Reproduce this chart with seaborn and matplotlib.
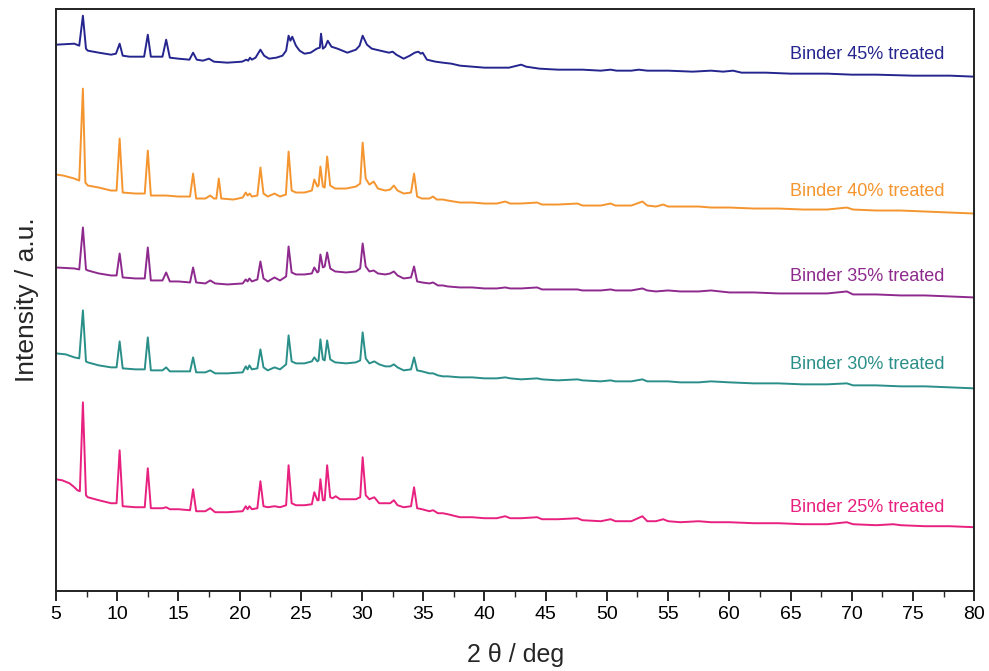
import numpy as np
import pandas as pd
import matplotlib
matplotlib.use("Agg")
import matplotlib.pyplot as plt
import seaborn as sns
from matplotlib.ticker import MultipleLocator

# ---------------- data ----------------
samples = ["Binder 45% treated", "Binder 40% treated", "Binder 35% treated",
           "Binder 30% treated", "Binder 25% treated"]
colors = ["#25258F", "#F5952F", "#8E2A8E", "#2A8F89", "#E8207F"]

# 2-theta (deg) and intensity (a.u.) vertices for each trace
theta_45 = [5.0, 6.5, 6.9, 7.2, 7.45, 7.6, 8.5, 9.5, 9.9, 10.2, 10.45, 11.0, 12.2, 12.5, 12.75,
            13.7, 14.0, 14.3, 15.0, 15.9, 16.2, 16.5, 17.0, 17.5, 17.9, 19.0, 20.2, 20.55, 20.7,
            20.85, 21.0, 21.3, 21.7, 22.0, 22.4, 23.0, 23.5, 23.8, 24.0, 24.15, 24.3, 24.6, 24.9,
            25.3, 25.8, 26.3, 26.55, 26.65, 26.8, 27.0, 27.2, 27.5, 28.0, 28.8, 29.5, 29.8, 30.05,
            30.4, 30.8, 31.5, 32.2, 32.5, 32.8, 33.4, 33.9, 34.3, 34.6, 34.8, 34.95, 35.3, 36.0,
            36.6, 37.3, 38.0, 39.0, 40.0, 41.0, 42.0, 43.0, 43.4, 44.5, 46.0, 48.0, 49.5, 50.3,
            50.8, 52.0, 52.6, 53.3, 55.0, 57.0, 58.5, 59.5, 60.3, 61.0, 63.0, 65.0, 68.0, 70.0,
            72.0, 75.0, 78.0, 80.0]
inten_45 = [547, 548, 546, 576, 543, 541, 539, 537, 538, 548, 536, 535, 535, 557, 535,
            535, 552, 534, 533, 532, 539, 532, 531, 533, 530, 529, 530, 532, 531,
            534, 532, 534, 542, 536, 533, 534, 536, 541, 556, 551, 555, 546, 541,
            538, 539, 543, 544, 558, 543, 545, 551, 545, 543, 539, 542, 546, 556,
            547, 543, 541, 539, 540, 537, 533, 536, 539, 540, 538, 539, 532, 530,
            529, 528, 526, 525, 524, 524, 524, 527, 525, 523, 522, 522, 521, 522,
            521, 521, 522, 521, 521, 520, 521, 520, 521, 519, 519, 518, 518, 517,
            517, 516, 516, 515]

theta_40 = [5.0, 5.6, 6.5, 6.9, 7.2, 7.4, 7.6, 8.5, 9.5, 9.95, 10.2, 10.45, 11.5, 12.25, 12.5,
            12.75, 14.0, 15.0, 15.95, 16.2, 16.45, 17.2, 17.6, 17.9, 18.1, 18.3, 18.5, 19.5,
            20.25, 20.5, 20.65, 20.82, 21.0, 21.45, 21.7, 21.95, 22.3, 22.85, 23.3, 23.78, 24.0,
            24.25, 24.6, 25.3, 25.9, 26.1, 26.35, 26.45, 26.6, 26.8, 26.95, 27.15, 27.4, 27.8,
            28.7, 29.5, 29.85, 30.05, 30.3, 30.6, 30.95, 31.3, 31.9, 32.3, 32.6, 32.9, 33.4,
            34.0, 34.25, 34.5, 34.9, 35.5, 35.8, 36.1, 36.6, 37.0, 38.0, 39.0, 40.0, 41.0, 41.7,
            42.1, 43.0, 44.3, 44.7, 46.0, 47.6, 48.0, 49.5, 50.3, 50.7, 52.0, 52.9, 53.3, 54.0,
            54.6, 55.0, 56.0, 57.5, 58.5, 60.0, 62.0, 64.0, 66.0, 68.0, 69.6, 70.1, 72.0, 74.0,
            76.0, 78.0, 80.0]
inten_40 = [417, 416, 413, 411, 503, 409, 406, 404, 401, 401, 453, 399, 398, 398, 441,
            396, 396, 395, 395, 418, 393, 393, 396, 393, 393, 413, 393, 392,
            394, 399, 396, 398, 395, 396, 424, 398, 395, 398, 395, 397, 440,
            401, 399, 399, 401, 412, 405, 406, 425, 405, 404, 435, 406, 403,
            403, 405, 408, 449, 413, 407, 410, 403, 401, 402, 406, 401, 398,
            399, 418, 395, 393, 393, 395, 392, 392, 391, 389, 389, 388, 388, 390,
            388, 388, 389, 387, 387, 388, 386, 386, 388, 386, 386, 390, 386, 385,
            387, 385, 385, 385, 384, 384, 383, 383, 382, 382, 384, 382, 381, 381,
            380, 379, 378]

theta_35 = [5.0, 6.5, 6.9, 7.2, 7.45, 7.6, 8.5, 9.5, 9.95, 10.2, 10.45, 11.5, 12.25, 12.5, 12.75,
            13.7, 14.0, 14.3, 15.0, 15.95, 16.2, 16.45, 17.2, 17.6, 18.0, 19.0, 20.25, 20.5,
            20.65, 20.8, 21.0, 21.45, 21.7, 21.95, 22.3, 22.85, 23.3, 23.8, 24.0, 24.25, 24.6,
            25.3, 25.9, 26.1, 26.35, 26.45, 26.6, 26.8, 26.95, 27.15, 27.4, 27.8, 28.7, 29.5,
            29.85, 30.05, 30.3, 30.6, 30.95, 31.3, 31.9, 32.3, 32.6, 32.9, 33.4, 34.0, 34.25,
            34.5, 34.9, 35.5, 35.8, 36.2, 36.6, 37.0, 38.0, 39.0, 40.0, 41.0, 41.7, 42.1, 43.0,
            44.3, 44.7, 46.0, 47.6, 48.0, 49.5, 50.3, 50.7, 52.0, 52.9, 53.3, 54.0, 55.0, 56.0,
            57.5, 58.5, 60.0, 62.0, 64.0, 66.0, 68.0, 69.6, 70.1, 72.0, 74.0, 76.0, 78.0, 80.0]
inten_35 = [324, 323, 322, 364, 322, 321, 318, 316, 316, 338, 314, 313, 313, 344, 311,
            311, 319, 310, 310, 309, 324, 309, 308, 311, 308, 307, 308, 312,
            310, 313, 310, 312, 330, 313, 310, 314, 311, 315, 345, 319, 317,
            317, 318, 324, 319, 320, 337, 324, 325, 339, 323, 320, 319, 320,
            323, 348, 325, 320, 321, 318, 317, 318, 320, 316, 313, 314, 325,
            310, 309, 308, 309, 306, 306, 305, 304, 304, 303, 303, 304, 303, 303,
            304, 302, 302, 302, 301, 301, 302, 301, 301, 303, 301, 300, 301, 300,
            300, 301, 299, 299, 298, 298, 298, 300, 297, 297, 296, 296, 295, 294]

theta_30 = [5.0, 5.8, 6.5, 6.9, 7.2, 7.45, 7.6, 8.5, 9.5, 9.95, 10.2, 10.45, 11.5, 12.25, 12.5,
            12.75, 13.7, 14.0, 14.3, 15.0, 15.95, 16.2, 16.45, 17.2, 17.6, 18.0, 19.0, 20.25,
            20.5, 20.65, 20.8, 21.0, 21.45, 21.7, 21.95, 22.3, 22.85, 23.3, 23.8, 24.0, 24.25,
            24.6, 25.3, 25.9, 26.1, 26.35, 26.45, 26.6, 26.8, 26.95, 27.15, 27.4, 27.8, 28.7,
            29.5, 29.85, 30.05, 30.3, 30.6, 31.0, 31.4, 31.9, 32.3, 32.6, 32.9, 33.4, 34.0,
            34.25, 34.5, 34.9, 35.5, 35.8, 36.2, 36.6, 37.0, 38.0, 39.0, 40.0, 41.0, 41.7, 42.1,
            43.0, 44.3, 44.7, 46.0, 47.6, 48.0, 49.5, 50.3, 50.7, 52.0, 52.9, 53.3, 54.0, 55.0,
            56.0, 57.5, 58.5, 60.0, 62.0, 64.0, 66.0, 68.0, 69.6, 70.1, 72.0, 74.0, 76.0, 78.0,
            80.0]
inten_30 = [238, 237, 234, 233, 281, 230, 229, 226, 224, 224, 250, 223, 222, 222, 254,
            221, 221, 224, 220, 220, 220, 234, 219, 219, 221, 218, 218, 219,
            225, 222, 226, 222, 223, 242, 224, 221, 224, 222, 227, 256, 230,
            228, 228, 230, 234, 230, 231, 252, 232, 231, 251, 232, 229, 228,
            229, 231, 259, 233, 228, 230, 227, 225, 225, 227, 224, 221, 222,
            234, 221, 220, 218, 218, 216, 215, 215, 214, 214, 213, 213, 214, 213,
            212, 213, 212, 211, 212, 211, 210, 211, 210, 210, 212, 210, 210, 210,
            209, 209, 210, 209, 208, 208, 207, 207, 208, 206, 206, 205, 205, 204,
            203]

theta_25 = [5.0, 5.5, 6.1, 6.5, 6.75, 6.95, 7.2, 7.45, 7.6, 8.5, 9.5, 9.95, 10.2, 10.45, 11.5,
            12.25, 12.5, 12.75, 13.7, 14.0, 14.3, 15.0, 15.95, 16.2, 16.45, 17.2, 17.6, 18.0,
            19.0, 20.25, 20.5, 20.65, 20.8, 21.0, 21.45, 21.7, 21.95, 22.3, 22.85, 23.3, 23.8,
            24.0, 24.25, 24.6, 25.3, 25.9, 26.1, 26.35, 26.45, 26.6, 26.8, 26.95, 27.15, 27.4,
            27.6, 27.85, 28.2, 28.8, 29.5, 29.85, 30.05, 30.3, 30.6, 31.0, 31.4, 31.9, 32.3,
            32.6, 32.9, 33.4, 34.0, 34.25, 34.5, 34.9, 35.5, 35.8, 36.2, 36.6, 37.0, 38.0, 39.0,
            40.0, 41.0, 41.7, 42.1, 43.0, 44.3, 44.7, 46.0, 47.6, 48.0, 49.5, 50.3, 50.7, 52.0,
            52.9, 53.3, 54.0, 54.6, 55.0, 56.0, 57.5, 58.5, 60.0, 62.0, 64.0, 66.0, 68.0, 69.6,
            70.1, 72.0, 73.4, 74.0, 76.0, 78.0, 80.0]
inten_25 = [112, 111, 108, 104, 101, 100, 189, 96, 94, 91, 88, 88, 141, 85, 84,
            84, 123, 83, 83, 84, 82, 82, 81, 102, 80, 80, 83, 79,
            79, 80, 85, 82, 85, 82, 83, 110, 85, 84, 85, 84, 86,
            126, 88, 86, 86, 87, 99, 91, 91, 112, 91, 91, 126, 94,
            93, 95, 92, 92, 92, 94, 134, 96, 92, 94, 88, 88, 88,
            91, 86, 84, 85, 104, 83, 82, 80, 81, 78, 78, 77, 74, 74,
            73, 73, 75, 73, 73, 74, 72, 72, 73, 71, 70, 72, 70, 70,
            75, 70, 70, 72, 70, 69, 70, 69, 69, 68, 68, 67, 67, 69,
            67, 66, 67, 66, 65, 65, 64]

label_y = [537, 400, 315, 227, 84]

# ---------------- build long table ----------------
thetas = [theta_45, theta_40, theta_35, theta_30, theta_25]
intens = [inten_45, inten_40, inten_35, inten_30, inten_25]
frames = []
for name, th, it in zip(samples, thetas, intens):
    frames.append(pd.DataFrame({"theta": th, "intensity": it, "sample": name}))
df = pd.concat(frames, ignore_index=True)

# ---------------- plot ----------------
sns.set_style("ticks")
plt.rcParams["font.family"] = ["Liberation Sans", "DejaVu Sans"]

fig = plt.figure(figsize=(9.89, 6.71), dpi=100)
ax = fig.add_axes([0.0566, 0.119, 0.9284, 0.868])

sns.lineplot(data=df, x="theta", y="intensity", hue="sample", hue_order=samples,
             palette=colors, estimator=None, sort=False, lw=1.4, legend=False, ax=ax)

for name, c, ly in zip(samples, colors, label_y):
    ax.text(77.6, ly, name, color=c, ha="right", va="center", fontsize=13)

ax.set_xlim(5, 80)
ax.set_ylim(0, 583)
ax.xaxis.set_major_locator(MultipleLocator(5))
ax.xaxis.set_minor_locator(MultipleLocator(2.5))
ax.set_yticks([])
ax.tick_params(axis="x", which="major", direction="out", length=7, width=1.2,
               labelsize=14, pad=4, colors="black")
ax.tick_params(axis="x", which="minor", direction="out", length=4, width=1.0)
for s in ax.spines.values():
    s.set_visible(True)
    s.set_linewidth(1.4)
    s.set_color("#222222")

ax.set_xlabel("2 θ / deg", fontsize=18, labelpad=14)
ax.set_ylabel("Intensity / a.u.", fontsize=19, labelpad=12)

fig.savefig("out.png", dpi=100)
